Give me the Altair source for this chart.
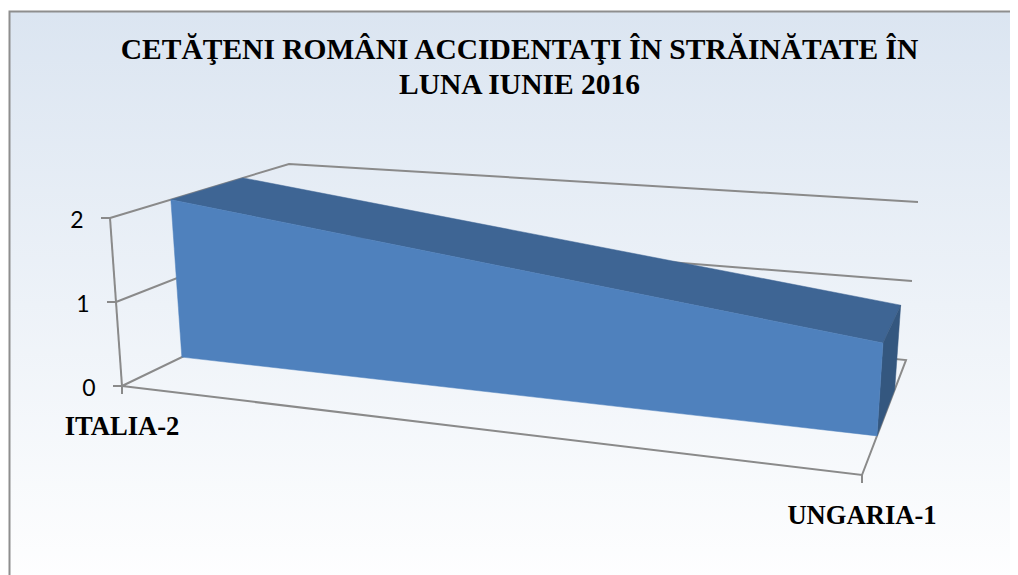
import altair as alt
import pandas as pd

# --- chart content ---
TITLE = ["CETĂŢENI ROMÂNI ACCIDENTAŢI ÎN STRĂINĂTATE ÎN", "LUNA IUNIE 2016"]
CATEGORIES = ["ITALIA-2", "UNGARIA-1"]
VALUES = [2, 1]
VALUE_TICKS = [0, 1, 2]
# depth band (0 = front of floor, 1 = back wall) occupied by the 3-D series
SERIES_DEPTH = (0.34, 0.743)

# --- camera: where the corners of the 3-D box land (category, value, depth) ---
CAMERA = {
    (0, 0, 0): (122, 386), (0, 2, 0): (110, 218),
    (0, 0, 1): (298, 301), (0, 2, 1): (289, 164),
    (1, 0, 0): (862, 475), (1, 2, 0): (874, 275),
    (1, 0, 1): (906, 360), (1, 2, 1): (918, 202),
}


def project(c, v, d):
    t = v / 2
    px, py = 0.0, 0.0
    for (cc, vv, dd), (sx, sy) in CAMERA.items():
        w = (c if cc else 1 - c) * (t if vv else 1 - t) * (d if dd else 1 - d)
        px += w * sx
        py += w * sy
    return px, py


def path(points, name, nudge=(0, 0)):
    rows = []
    for i, p in enumerate(points):
        x, y = project(*p)
        rows.append({"x": x + nudge[0], "y": y + nudge[1], "i": i, "g": name})
    return rows


W, H = 1002, 567
X = alt.X("x:Q", scale=alt.Scale(domain=[8, 8 + W], range=[0, W]), axis=None)
Y = alt.Y("y:Q", scale=alt.Scale(domain=[8, 8 + H], range=[0, H]), axis=None)

GRID = "#8a8a8a"
FRONT = "#4f81bd"
TOP = "#3e6594"
SIDE = "#34577f"

bg = alt.Chart(pd.DataFrame({"a": [0]})).mark_rect(
    fill=alt.Gradient(
        gradient="linear", x1=0, y1=0, x2=0, y2=1,
        stops=[
            alt.GradientStop(offset=0, color="#dbe5f1"),
            alt.GradientStop(offset=1, color="#ffffff"),
        ],
    ),
    stroke="#8e8e8e",
    strokeWidth=2,
).encode(x=alt.value(1.5), x2=alt.value(1030), y=alt.value(3.5), y2=alt.value(590))

# grid / walls / floor
grid_rows = []
for v in VALUE_TICKS[1:]:
    grid_rows += path([(0, v, 0), (0, v, 1), (1, v, 1)], f"wall{v}")
grid_rows += path([(0, 0, 0), (0, 0, 1), (1, 0, 1), (1, 0, 0), (0, 0, 0)], "floor")
grid_rows += path([(0, 0, 0), (0, 2, 0)], "axis")
for v in VALUE_TICKS:
    a = path([(0, v, 0)], f"tick{v}", (-9, 0))
    b = path([(0, v, 0)], f"tick{v}")
    b[0]["i"] = 1
    grid_rows += a + b
for c in (0, 1):
    a = path([(c, 0, 0)], f"cat{c}")
    b = path([(c, 0, 0)], f"cat{c}", (0, 8))
    b[0]["i"] = 1
    grid_rows += a + b

grid = alt.Chart(pd.DataFrame(grid_rows)).mark_line(
    color=GRID, strokeWidth=2
).encode(x=X, y=Y, order="i:Q", detail="g:N")

# series solid
d0, d1 = SERIES_DEPTH
v0, v1 = VALUES
faces = {
    "top": (TOP, [(0, v0, d0), (0, v0, d1), (1, v1, d1), (1, v1, d0)]),
    "side": (SIDE, [(1, v1, d0), (1, v1, d1), (1, 0, d1), (1, 0, d0)]),
    "front": (FRONT, [(0, v0, d0), (1, v1, d0), (1, 0, d0), (0, 0, d0)]),
}
face_layers = []
for name, (col, pts) in faces.items():
    face_layers.append(
        alt.Chart(pd.DataFrame(path(pts + pts[:1], name))).mark_line(
            fill=col, stroke=col, strokeWidth=0.5
        ).encode(x=X, y=Y, order="i:Q")
    )

# value labels
val_rows = [
    {"x": project(0, v, 0)[0], "y": project(0, v, 0)[1], "t": str(v)} for v in VALUE_TICKS
]
val_labels = alt.Chart(pd.DataFrame(val_rows)).mark_text(
    font="Lato", fontSize=23, color="#000000", align="center", baseline="middle", dx=-33, dy=3
).encode(x=X, y=Y, text="t:N")

cat_rows = [
    {"x": project(i, 0, 0)[0], "y": project(i, 0, 0)[1], "t": c} for i, c in enumerate(CATEGORIES)
]
cat_labels = alt.Chart(pd.DataFrame(cat_rows)).mark_text(
    font="Liberation Serif", fontWeight="bold", fontSize=26.6, color="#000000",
    align="center", baseline="alphabetic", dy=48.5,
).encode(x=X, y=Y, text="t:N")

title_layer = alt.Chart(pd.DataFrame({"t": [TITLE]})).mark_text(
    font="Liberation Serif", fontWeight="bold", fontSize=29.5, color="#000000",
    align="center", baseline="alphabetic", lineHeight=35,
).encode(x=alt.value(511.5), y=alt.value(51), text="t:N")

chart = alt.layer(
    bg, grid, *face_layers, val_labels, cat_labels, title_layer
).properties(
    width=W, height=H, padding=0, autosize=alt.AutoSizeParams(type="none"), background="#ffffff"
).configure_view(stroke=None)

chart.save("out.html", embed_options={"renderer": "svg", "actions": False})
